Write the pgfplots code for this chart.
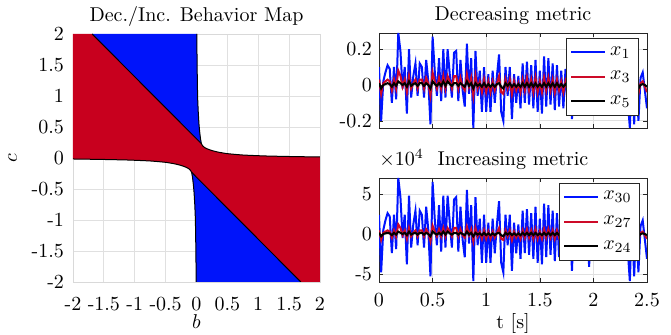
\documentclass[border=0pt]{standalone}
\usepackage{pgfplots}
\pgfplotsset{compat=1.18}
\usepackage{pgfplotstable}
\definecolor{mblue}{RGB}{0,20,250}
\definecolor{mred}{RGB}{200,0,30}
\definecolor{lblue}{RGB}{0,20,255}
\definecolor{lred}{RGB}{205,10,40}
\pgfplotstableread{
t a b c d e f
0.00 0.10 0.03 0.01 2.4 0.45 0.15
0.02 -0.20 -0.05 -0.02 -4.8 -0.75 -0.3
0.04 0.02 0.01 0.00 0.5 0.15 0.0
0.06 0.07 0.02 0.005 1.7 0.3 0.08
0.08 0.11 0.03 0.01 2.6 0.45 0.15
0.10 0.09 0.02 0.005 2.2 0.3 0.08
0.12 -0.10 -0.03 -0.01 -2.4 -0.45 -0.15
0.14 0.10 0.03 0.01 2.4 0.45 0.15
0.16 -0.08 -0.02 -0.005 -1.9 -0.3 -0.08
0.18 0.29 0.08 0.02 7.0 1.2 0.3
0.20 0.19 0.05 0.01 4.6 0.75 0.15
0.22 -0.02 -0.01 0.00 -0.5 -0.15 0.0
0.24 0.10 0.03 0.01 2.4 0.45 0.15
0.26 -0.16 -0.04 -0.01 -3.8 -0.6 -0.15
0.28 0.20 0.05 0.02 4.8 0.75 0.3
0.30 -0.07 -0.02 -0.005 -1.7 -0.3 -0.08
0.32 0.05 0.01 0.005 1.2 0.15 0.08
0.34 0.12 0.03 0.01 2.9 0.45 0.15
0.36 -0.06 -0.02 -0.005 -1.4 -0.3 -0.08
0.38 0.12 0.03 0.01 2.9 0.45 0.15
0.40 0.10 0.03 0.01 2.4 0.45 0.15
0.42 -0.07 -0.02 -0.005 -1.7 -0.3 -0.08
0.44 0.14 0.04 0.01 3.4 0.6 0.15
0.46 0.02 0.01 0.00 0.5 0.15 0.0
0.48 -0.22 -0.06 -0.02 -5.3 -0.9 -0.3
0.50 0.27 0.07 0.02 6.5 1.05 0.3
0.52 0.08 0.02 0.005 1.9 0.3 0.08
0.54 -0.06 -0.02 -0.005 -1.4 -0.3 -0.08
0.56 0.15 0.04 0.01 3.6 0.6 0.15
0.58 -0.09 -0.02 -0.005 -2.2 -0.3 -0.08
0.60 0.20 0.05 0.02 4.8 0.75 0.3
0.62 -0.07 -0.02 -0.005 -1.7 -0.3 -0.08
0.64 0.20 0.05 0.02 4.8 0.75 0.3
0.66 0.06 0.02 0.005 1.4 0.3 0.08
0.68 -0.07 -0.02 -0.005 -1.7 -0.3 -0.08
0.70 0.18 0.05 0.01 4.3 0.75 0.15
0.72 0.19 0.05 0.01 4.6 0.75 0.15
0.74 -0.09 -0.02 -0.005 -2.2 -0.3 -0.08
0.76 0.14 0.04 0.01 3.4 0.6 0.15
0.78 -0.03 -0.01 0.00 -0.7 -0.15 0.0
0.80 -0.12 -0.03 -0.01 -2.9 -0.45 -0.15
0.82 0.23 0.06 0.02 5.5 0.9 0.3
0.84 -0.05 -0.01 -0.005 -1.2 -0.15 -0.08
0.86 0.15 0.04 0.01 3.6 0.6 0.15
0.88 -0.24 -0.06 -0.02 -5.9 -0.9 -0.3
0.90 0.19 0.05 0.01 4.6 0.75 0.15
0.92 -0.06 -0.02 -0.005 -1.4 -0.3 -0.08
0.94 0.08 0.02 0.005 1.9 0.3 0.08
0.96 -0.15 -0.04 -0.01 -3.6 -0.6 -0.15
0.98 0.10 0.03 0.01 2.4 0.45 0.15
1.00 -0.15 -0.04 -0.01 -3.6 -0.6 -0.15
1.02 0.06 0.02 0.005 1.4 0.3 0.08
1.04 -0.15 -0.04 -0.01 -3.6 -0.6 -0.15
1.06 0.08 0.02 0.005 1.9 0.3 0.08
1.08 -0.10 -0.03 -0.01 -2.4 -0.45 -0.15
1.10 0.05 0.01 0.005 1.2 0.15 0.08
1.12 0.17 0.05 0.01 4.1 0.75 0.15
1.14 -0.15 -0.04 -0.01 -3.6 -0.6 -0.15
1.16 -0.20 -0.05 -0.02 -4.8 -0.75 -0.3
1.18 0.10 0.03 0.01 2.4 0.45 0.15
1.20 -0.06 -0.02 -0.005 -1.4 -0.3 -0.08
1.22 0.10 0.03 0.01 2.4 0.45 0.15
1.24 -0.19 -0.05 -0.01 -4.6 -0.75 -0.15
1.26 0.06 0.02 0.005 1.4 0.3 0.08
1.28 -0.10 -0.03 -0.01 -2.4 -0.45 -0.15
1.30 0.05 0.01 0.005 1.2 0.15 0.08
1.32 -0.13 -0.04 -0.01 -3.1 -0.6 -0.15
1.34 0.12 0.03 0.01 2.9 0.45 0.15
1.36 -0.10 -0.03 -0.01 -2.4 -0.45 -0.15
1.38 0.13 0.04 0.01 3.1 0.6 0.15
1.40 -0.11 -0.03 -0.01 -2.6 -0.45 -0.15
1.42 0.11 0.03 0.01 2.6 0.45 0.15
1.44 -0.13 -0.04 -0.01 -3.1 -0.6 -0.15
1.46 0.14 0.04 0.01 3.4 0.6 0.15
1.48 -0.15 -0.04 -0.01 -3.6 -0.6 -0.15
1.50 0.08 0.02 0.005 1.9 0.3 0.08
1.52 -0.16 -0.04 -0.01 -3.8 -0.6 -0.15
1.54 0.16 0.04 0.01 3.8 0.6 0.15
1.56 -0.12 -0.03 -0.01 -2.9 -0.45 -0.15
1.58 0.15 0.04 0.01 3.6 0.6 0.15
1.60 -0.11 -0.03 -0.01 -2.6 -0.45 -0.15
1.62 0.12 0.03 0.01 2.9 0.45 0.15
1.64 -0.14 -0.04 -0.01 -3.4 -0.6 -0.15
1.66 0.11 0.03 0.01 2.6 0.45 0.15
1.68 -0.12 -0.03 -0.01 -2.9 -0.45 -0.15
1.70 0.08 0.02 0.005 1.9 0.3 0.08
1.72 -0.13 -0.04 -0.01 -3.1 -0.6 -0.15
1.74 0.09 0.02 0.005 2.2 0.3 0.08
1.76 -0.12 -0.03 -0.01 -2.9 -0.45 -0.15
1.78 0.10 0.03 0.01 2.4 0.45 0.15
1.80 -0.19 -0.05 -0.01 -4.6 -0.75 -0.15
1.82 0.09 0.02 0.005 2.2 0.3 0.08
1.84 -0.12 -0.03 -0.01 -2.9 -0.45 -0.15
1.86 0.13 0.04 0.01 3.1 0.6 0.15
1.88 -0.10 -0.03 -0.01 -2.4 -0.45 -0.15
1.90 0.11 0.03 0.01 2.6 0.45 0.15
1.92 -0.13 -0.04 -0.01 -3.1 -0.6 -0.15
1.94 0.12 0.03 0.01 2.9 0.45 0.15
1.96 -0.17 -0.05 -0.01 -4.1 -0.75 -0.15
1.98 0.08 0.02 0.005 1.9 0.3 0.08
2.00 -0.10 -0.03 -0.01 -2.4 -0.45 -0.15
2.02 0.13 0.04 0.01 3.1 0.6 0.15
2.04 -0.12 -0.03 -0.01 -2.9 -0.45 -0.15
2.06 0.10 0.03 0.01 2.4 0.45 0.15
2.08 -0.11 -0.03 -0.01 -2.6 -0.45 -0.15
2.10 0.14 0.04 0.01 3.4 0.6 0.15
2.12 -0.09 -0.02 -0.005 -2.2 -0.3 -0.08
2.14 0.11 0.03 0.01 2.6 0.45 0.15
2.16 -0.13 -0.04 -0.01 -3.1 -0.6 -0.15
2.18 0.09 0.02 0.005 2.2 0.3 0.08
2.20 -0.10 -0.03 -0.01 -2.4 -0.45 -0.15
2.22 0.12 0.03 0.01 2.9 0.45 0.15
2.24 -0.12 -0.03 -0.01 -2.9 -0.45 -0.15
2.26 0.08 0.02 0.005 1.9 0.3 0.08
2.28 -0.11 -0.03 -0.01 -2.6 -0.45 -0.15
2.30 0.10 0.03 0.01 2.4 0.45 0.15
2.32 -0.08 -0.02 -0.005 -1.9 -0.3 -0.08
2.34 -0.24 -0.06 -0.02 -5.9 -0.9 -0.3
2.36 0.09 0.02 0.005 2.2 0.3 0.08
2.38 -0.22 -0.06 -0.02 -5.3 -0.9 -0.3
2.40 0.05 0.01 0.005 1.2 0.15 0.08
2.42 -0.20 -0.05 -0.02 -4.8 -0.75 -0.3
2.44 0.04 0.01 0.00 1.0 0.15 0.0
2.46 0.07 0.02 0.005 1.7 0.3 0.08
2.48 -0.03 -0.01 0.00 -0.7 -0.15 0.0
2.50 -0.13 -0.04 -0.01 -3.1 -0.6 -0.15
}\ts

\begin{document}
\begin{tikzpicture}
\useasboundingbox (0,0) rectangle (335.5pt,167.5pt);
\pgfplotsset{
  every axis title/.style={at={(0.5,1)}, anchor=base, yshift=6pt},
  common/.style={
    scale only axis, anchor=south west,
    grid=major, major grid style={black!12, line width=0.4pt},
    xlabel style={at={([yshift=-23.5pt]axis description cs:0.5,0)}, anchor=base},
  },
}
% ---------- left: behaviour map ----------
\begin{axis}[common,
  at={(36.5pt,26.5pt)}, width=123.5pt, height=124pt,
  xmin=-2, xmax=2, ymin=-2, ymax=2,
  xtick={-2,-1.5,-1,-0.5,0,0.5,1,1.5,2},
  xticklabels={-2,-1.5,-1,-0.5,0,0.5,1,1.5,2},
  ytick={-2,-1.5,-1,-0.5,0,0.5,1,1.5,2},
  yticklabels={-2,-1.5,-1,-0.5,0,0.5,1,1.5,2},
  axis line style={black!15}, major tick length=0pt,
  xticklabel style={yshift=-4pt},
  yticklabel style={xshift=-1pt},
  title={Dec./Inc. Behavior Map},
  xlabel={$b$}, ylabel={$c$},
  ylabel style={at={([xshift=-28pt]axis description cs:0,0.5)}, anchor=base},
]
% red region
\addplot[draw=none, fill=mred] coordinates {
 (-2,2) (-1.69,2) (0.08,0.23)
 (0.10,0.195) (0.13,0.17) (0.18,0.145) (0.25,0.12) (0.35,0.095) (0.5,0.07)
 (0.75,0.048) (1.1,0.033) (1.5,0.024) (2.0,0.016)
 (2,-2) (1.69,-2) (-0.08,-0.23)
 (-0.10,-0.195) (-0.13,-0.17) (-0.18,-0.145) (-0.25,-0.12) (-0.35,-0.095) (-0.5,-0.07)
 (-0.75,-0.048) (-1.1,-0.033) (-1.5,-0.024) (-2.0,-0.016)
} -- cycle;
% upper blue region
\addplot[draw=none, fill=mblue] coordinates {
 (-1.69,2) (0.005,2) (0.010,1.5) (0.018,1.0) (0.028,0.75) (0.040,0.55)
 (0.052,0.42) (0.065,0.31) (0.08,0.23)
} -- cycle;
% lower blue region
\addplot[draw=none, fill=mblue] coordinates {
 (1.69,-2) (-0.005,-2) (-0.010,-1.5) (-0.018,-1.0) (-0.028,-0.75) (-0.040,-0.55)
 (-0.052,-0.42) (-0.065,-0.31) (-0.08,-0.23)
} -- cycle;
% boundaries
\addplot[black, line width=0.5pt] coordinates {(-1.69,2) (0.08,0.23)};
\addplot[black, line width=0.5pt] coordinates {(1.69,-2) (-0.08,-0.23)};
\addplot[black, line width=0.5pt, smooth, tension=0.3] coordinates {
 (0.005,2) (0.010,1.5) (0.018,1.0) (0.028,0.75) (0.040,0.55)
 (0.052,0.42) (0.065,0.31) (0.08,0.23)
 (0.10,0.195) (0.13,0.17) (0.18,0.145) (0.25,0.12) (0.35,0.095) (0.5,0.07)
 (0.75,0.048) (1.1,0.033) (1.5,0.024) (2.0,0.016)};
\addplot[black, line width=0.5pt, smooth, tension=0.3] coordinates {
 (-0.005,-2) (-0.010,-1.5) (-0.018,-1.0) (-0.028,-0.75) (-0.040,-0.55)
 (-0.052,-0.42) (-0.065,-0.31) (-0.08,-0.23)
 (-0.10,-0.195) (-0.13,-0.17) (-0.18,-0.145) (-0.25,-0.12) (-0.35,-0.095) (-0.5,-0.07)
 (-0.75,-0.048) (-1.1,-0.033) (-1.5,-0.024) (-2.0,-0.016)};
\end{axis}

% ---------- right top ----------
\begin{axis}[common,
  at={(189.5pt,103.5pt)}, width=134pt, height=47.5pt,
  xmin=0, xmax=2.5, ymin=-0.24, ymax=0.29,
  xtick={0,0.5,1,1.5,2,2.5}, xticklabels={},
  ytick={-0.2,0,0.2}, yticklabels={-0.2,0,0.2},
  tick align=inside, major tick length=2pt,
  axis line style={black!85}, tick style={black!85},
  title={Decreasing metric},
  legend style={at={(0.97,0.947)}, anchor=north east, draw=black!85, fill=white,
    row sep=2.5pt, inner sep=2pt},
  legend cell align=left,
]
\addplot[lblue, line width=1pt] table[x=t,y=a]{\ts}; \addlegendentry{$x_1$}
\addplot[lred, line width=1pt] table[x=t,y=b]{\ts}; \addlegendentry{$x_3$}
\addplot[black, line width=1pt] table[x=t,y=c]{\ts}; \addlegendentry{$x_5$}
\end{axis}

% ---------- right bottom ----------
\begin{axis}[common,
  at={(189.5pt,26.5pt)}, width=134pt, height=52pt,
  xmin=0, xmax=2.5, ymin=-6, ymax=7,
  xtick={0,0.5,1,1.5,2,2.5}, xticklabels={0,0.5,1,1.5,2,2.5},
  ytick={-5,0,5}, yticklabels={-5,0,5},
  xticklabel style={yshift=-2pt},
  tick align=inside, major tick length=2pt,
  axis line style={black!85}, tick style={black!85},
  title={Increasing metric},
  xlabel={t [s]},
  legend style={at={(0.974,0.952)}, anchor=north east, draw=black!85, fill=white,
    row sep=2.5pt, inner sep=2pt},
  legend cell align=left,
]
\addplot[lblue, line width=1pt] table[x=t,y=d]{\ts}; \addlegendentry{$x_{30}$}
\addplot[lred, line width=1pt] table[x=t,y=e]{\ts}; \addlegendentry{$x_{27}$}
\addplot[black, line width=1pt] table[x=t,y=f]{\ts}; \addlegendentry{$x_{24}$}
\coordinate (botTL) at (rel axis cs:0,1);
\end{axis}
\node[anchor=base west, inner sep=0pt] at ([yshift=6pt]botTL) {$\times 10^4$};
\end{tikzpicture}
\end{document}
